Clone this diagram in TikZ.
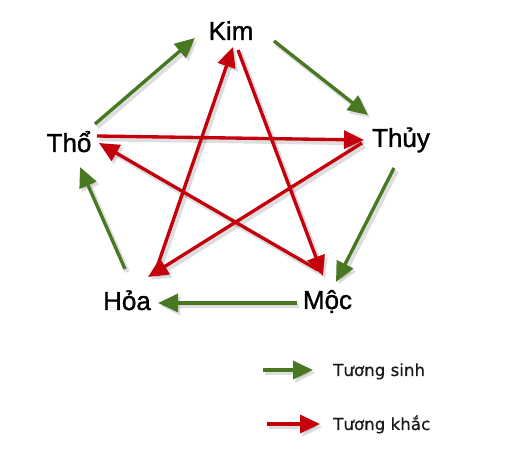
\documentclass[tikz,border=0pt]{standalone}
\usepackage{fontspec}
\setmainfont{Liberation Sans}
\newfontfamily\elemfont[FakeBold=1.3]{Liberation Sans}
\newfontfamily\legendfont[FakeBold=0.6]{DejaVu Sans}
\usetikzlibrary{arrows.meta}
\definecolor{sinh}{RGB}{72,120,34}
\definecolor{khac}{RGB}{196,0,12}
\begin{document}
\begin{tikzpicture}[x=0.75pt,y=-0.75pt,
  elem/.style={font=\elemfont\fontsize{19.5}{23}\selectfont, inner sep=0pt, anchor=base},
  legtext/.style={font=\legendfont\fontsize{12.5}{15}\selectfont, inner sep=0pt, anchor=base west, text=black!90},
  headtip/.style={-{Triangle[length=15pt,width=13.5pt]}},
  sinharrow/.style={draw=sinh, line width=2.5pt, headtip},
  khacarrow/.style={draw=khac, line width=2.5pt, headtip},
  shadowarrow/.style={draw=black, opacity=0.13, line width=3.6pt, headtip, transform canvas={shift={(1.8pt,-2.2pt)}}},
]
\useasboundingbox (0,0) rectangle (515,474);
\fill[white] (0,0) rectangle (515,474);

% element labels
\node[elem] (kim)  at (231,40)  {Kim};
\node[elem] (thuy) at (401,147) {Thủy};
\node[elem] (tho)  at (69,152)  {Thổ};
\node[elem] (hoa)  at (127,310) {Hỏa};
\node[elem] (moc)  at (327.5,309) {Mộc};

% legend labels
\node[legtext] (ls) at (333,376) {Tương sinh};
\node[legtext] (lk) at (333,430) {Tương khắc};

% connector end points
\coordinate (g1s) at (95,124);   \coordinate (g1e) at (195,38);
\coordinate (g2s) at (274,41);   \coordinate (g2e) at (368,115);
\coordinate (g3s) at (394,168);  \coordinate (g3e) at (336,282);
\coordinate (g4s) at (297,303);  \coordinate (g4e) at (158,303);
\coordinate (g5s) at (125,269);  \coordinate (g5e) at (80,167);
\coordinate (r1s) at (97,136);   \coordinate (r1e) at (364,140);
\coordinate (r2s) at (362,143);  \coordinate (r2e) at (148,277);
\coordinate (r3s) at (155,273);  \coordinate (r3e) at (233,47);
\coordinate (r4s) at (238,50);   \coordinate (r4e) at (323,276);
\coordinate (r5s) at (318,270);  \coordinate (r5e) at (99,143);
\coordinate (lgs) at (263,370);  \coordinate (lge) at (313,370);
\coordinate (lrs) at (267,424);  \coordinate (lre) at (320,424);

% shadows
\foreach \a in {g1,g2,g3,g4,g5,r1,r2,r3,r4,r5,lg,lr}
  \draw[shadowarrow] (\a s) -- (\a e);

% tuong sinh (green)
\foreach \a in {g1,g2,g3,g4,g5,lg}
  \draw[sinharrow] (\a s) -- (\a e);

% tuong khac (red)
\foreach \a in {r1,r2,r3,r4,r5,lr}
  \draw[khacarrow] (\a s) -- (\a e);
\end{tikzpicture}
\end{document}
